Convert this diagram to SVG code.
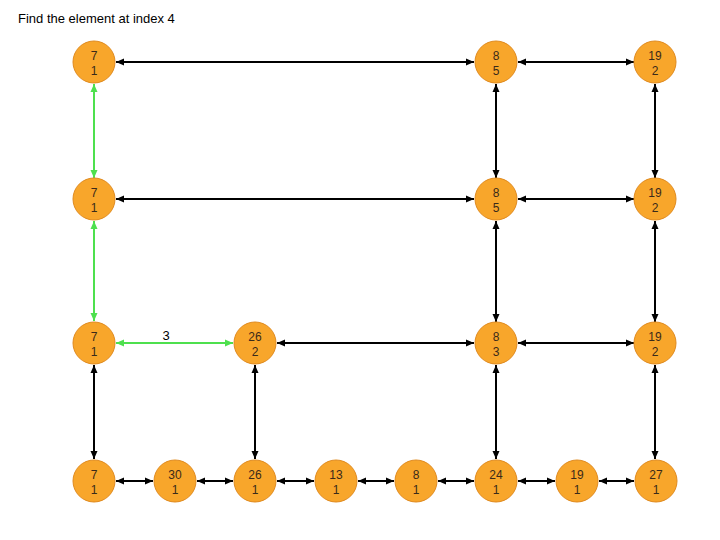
<svg xmlns="http://www.w3.org/2000/svg" width="720" height="540" viewBox="0 0 720 540">
<defs>
<style>
.n circle{fill:#F8A62B;stroke:#E08A1E;stroke-width:1}
.n text{font-family:"Liberation Sans",Arial,sans-serif;font-size:12px;fill:#3a2a1a;text-anchor:middle}
.e line{stroke:#000;stroke-width:2;marker-start:url(#ab);marker-end:url(#ab)}
.e line.g{stroke:#4EE04E;marker-start:url(#ag);marker-end:url(#ag)}
.t{font-family:"Liberation Sans",Arial,sans-serif;font-size:13px;fill:#000}
</style>
<marker id="ab" viewBox="0 0 8 8" refX="8" refY="4" markerWidth="8" markerHeight="8" markerUnits="userSpaceOnUse" orient="auto-start-reverse"><path d="M0,0.5 L8,4 L0,7.5 z" fill="#000"/></marker>
<marker id="ag" viewBox="0 0 8 8" refX="8" refY="4" markerWidth="8" markerHeight="8" markerUnits="userSpaceOnUse" orient="auto-start-reverse"><path d="M0,0.5 L8,4 L0,7.5 z" fill="#4EE04E"/></marker>
</defs>
<rect width="720" height="540" fill="#fff"/>
<text class="t" x="18" y="23">Find the element at index 4</text>
<g id="edges" class="e">
<line x1="116" y1="62" x2="474" y2="62"/>
<line x1="518" y1="62" x2="634" y2="62"/>
<line class="g" x1="94" y1="84" x2="94" y2="178"/>
<line x1="496" y1="84" x2="496" y2="178"/>
<line x1="655" y1="84" x2="655" y2="178"/>
<line x1="116" y1="199" x2="474" y2="199"/>
<line x1="518" y1="199" x2="634" y2="199"/>
<line class="g" x1="94" y1="221" x2="94" y2="321"/>
<line x1="496" y1="221" x2="496" y2="322"/>
<line x1="655" y1="221" x2="655" y2="322"/>
<line class="g" x1="116" y1="343" x2="233" y2="343"/>
<line x1="277" y1="343" x2="474" y2="343"/>
<line x1="518" y1="343" x2="634" y2="343"/>
<line x1="94" y1="365" x2="94" y2="459"/>
<line x1="255" y1="365" x2="255" y2="459"/>
<line x1="496" y1="365" x2="496" y2="459"/>
<line x1="655" y1="365" x2="655" y2="459"/>
<line x1="116" y1="481" x2="153" y2="481"/>
<line x1="197" y1="481" x2="233" y2="481"/>
<line x1="277" y1="481" x2="314" y2="481"/>
<line x1="358" y1="481" x2="394" y2="481"/>
<line x1="438" y1="481" x2="474" y2="481"/>
<line x1="518" y1="481" x2="555" y2="481"/>
<line x1="599" y1="481" x2="634" y2="481"/>
</g>
<text class="t" x="166" y="340" text-anchor="middle" font-size="12">3</text>
<g id="n1" class="n"><circle cx="94" cy="62" r="21"/><text x="94" y="60">7</text><text x="94" y="75">1</text></g>
<g id="n2" class="n"><circle cx="496" cy="62" r="21"/><text x="496" y="60">8</text><text x="496" y="75">5</text></g>
<g id="n3" class="n"><circle cx="655" cy="62" r="21"/><text x="655" y="60">19</text><text x="655" y="75">2</text></g>
<g id="n4" class="n"><circle cx="94" cy="199" r="21"/><text x="94" y="197">7</text><text x="94" y="212">1</text></g>
<g id="n5" class="n"><circle cx="496" cy="199" r="21"/><text x="496" y="197">8</text><text x="496" y="212">5</text></g>
<g id="n6" class="n"><circle cx="655" cy="199" r="21"/><text x="655" y="197">19</text><text x="655" y="212">2</text></g>
<g id="n7" class="n"><circle cx="94" cy="343" r="21"/><text x="94" y="341">7</text><text x="94" y="356">1</text></g>
<g id="n8" class="n"><circle cx="255" cy="343" r="21"/><text x="255" y="341">26</text><text x="255" y="356">2</text></g>
<g id="n9" class="n"><circle cx="496" cy="343" r="21"/><text x="496" y="341">8</text><text x="496" y="356">3</text></g>
<g id="n10" class="n"><circle cx="655" cy="343" r="21"/><text x="655" y="341">19</text><text x="655" y="356">2</text></g>
<g id="n11" class="n"><circle cx="94" cy="481" r="21"/><text x="94" y="479">7</text><text x="94" y="494">1</text></g>
<g id="n12" class="n"><circle cx="175" cy="481" r="21"/><text x="175" y="479">30</text><text x="175" y="494">1</text></g>
<g id="n13" class="n"><circle cx="255" cy="481" r="21"/><text x="255" y="479">26</text><text x="255" y="494">1</text></g>
<g id="n14" class="n"><circle cx="336" cy="481" r="21"/><text x="336" y="479">13</text><text x="336" y="494">1</text></g>
<g id="n15" class="n"><circle cx="416" cy="481" r="21"/><text x="416" y="479">8</text><text x="416" y="494">1</text></g>
<g id="n16" class="n"><circle cx="496" cy="481" r="21"/><text x="496" y="479">24</text><text x="496" y="494">1</text></g>
<g id="n17" class="n"><circle cx="577" cy="481" r="21"/><text x="577" y="479">19</text><text x="577" y="494">1</text></g>
<g id="n18" class="n"><circle cx="656" cy="481" r="21"/><text x="656" y="479">27</text><text x="656" y="494">1</text></g>
</svg>
